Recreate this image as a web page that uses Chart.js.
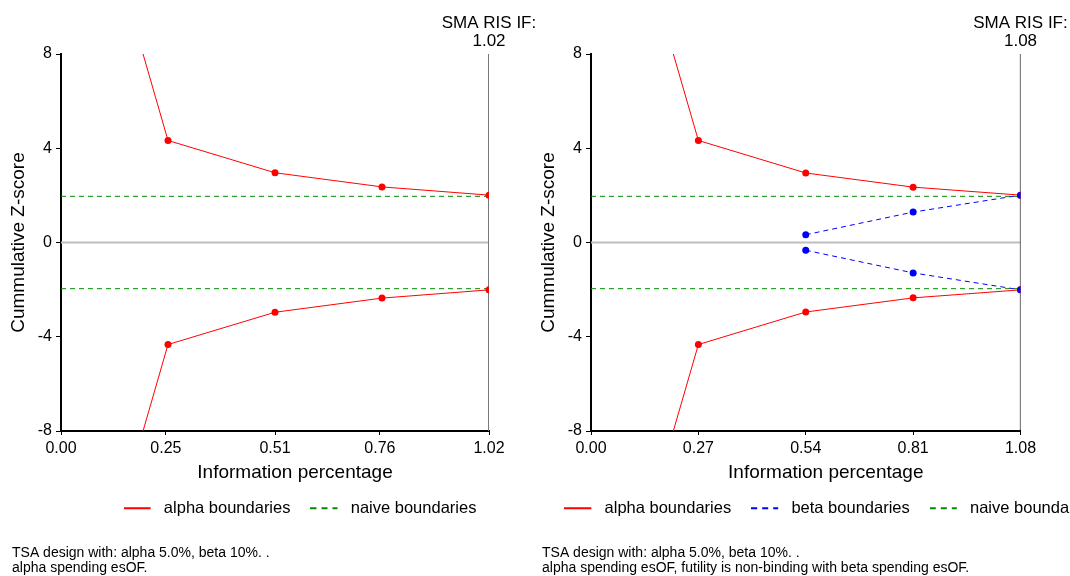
<!DOCTYPE html>
<html>
<head>
<meta charset="utf-8">
<script src="https://cdn.jsdelivr.net/npm/chart.js@4.4.1/dist/chart.umd.min.js"></script>
<style>
  html, body { margin: 0; padding: 0; background: #fff; overflow: hidden; }
  body { width: 1070px; height: 576px; position: relative; }
  .panel { position: absolute; top: 0; width: 600px; height: 576px; }
  #leftPanel { left: 0; }
  #rightPanel { left: 530px; }
</style>
</head>
<body>
<div class="panel" id="leftPanel"><canvas id="tsaLeft" width="600" height="576"></canvas></div>
<div class="panel" id="rightPanel"><canvas id="tsaRight" width="600" height="576"></canvas></div>
<script>
// shared z-score axis
const zTicks = [-8, -4, 0, 4, 8];
const naiveZ = 1.96;

// left: alpha spending only
const leftIF = 1.02;
const leftTickLabels = ["0.00", "0.25", "0.51", "0.76", "1.02"];
const leftLooks = [0.255, 0.51, 0.765, 1.02];
const leftAlphaUpper = [4.33, 2.96, 2.36, 2.01];
const leftAlphaLower = [-4.33, -2.96, -2.36, -2.01];
// boundary runs off the plot before the first look
const leftLeadX = 0.1275;
const leftLeadZ = [12.2, -12.2];
const leftNotes = [
  "TSA design with: alpha 5.0%, beta 10%. .",
  "alpha spending esOF."
];

// right: alpha spending + non-binding beta spending
const rightIF = 1.08;
const rightTickLabels = ["0.00", "0.27", "0.54", "0.81", "1.08"];
const rightLooks = [0.27, 0.54, 0.81, 1.08];
const rightAlphaUpper = [4.33, 2.95, 2.35, 2.01];
const rightAlphaLower = [-4.33, -2.95, -2.35, -2.01];
const rightLeadX = 0.135;
const rightLeadZ = [12.2, -12.2];
const rightBetaLooks = [0.54, 0.81, 1.08];
const rightBetaUpper = [0.33, 1.29, 2.01];
const rightBetaLower = [-0.33, -1.29, -2.01];
const rightNotes = [
  "TSA design with: alpha 5.0%, beta 10%. .",
  "alpha spending esOF, futility is non-binding with beta spending esOF."
];

const FONT = '"Liberation Sans", Arial, Helvetica, sans-serif';
Chart.defaults.font.family = FONT;
Chart.defaults.color = "#000";

const RED = "#ff0000";
const BLUE = "#0000ff";
const GREEN = "#008b00";

const pts = (xs, ys) => xs.map((x, i) => ({ x: x, y: ys[i] }));

// little line swatch for the legend, with some blank room after it
function swatch(color, dash) {
  const c = document.createElement("canvas");
  c.width = 32; c.height = 4;
  const g = c.getContext("2d");
  g.strokeStyle = color;
  g.lineWidth = 2;
  g.setLineDash(dash);
  g.beginPath();
  g.moveTo(0, 2);
  g.lineTo(27, 2);
  g.stroke();
  return c;
}

// header above the IF line, x title and the design notes underneath
const tsaText = {
  id: "tsaText",
  afterDraw(chart, args, opts) {
    const { ctx, chartArea } = chart;
    const xs = chart.scales.x;
    const xIF = xs.getPixelForValue(opts.ifValue);
    ctx.save();
    ctx.fillStyle = "#000";
    ctx.textBaseline = "alphabetic";
    ctx.textAlign = "center";
    ctx.font = "17px " + FONT;
    ctx.fillText("SMA RIS IF:", xIF, chartArea.top - 26.3);
    ctx.fillText(opts.ifLabel, xIF, chartArea.top - 8);
    ctx.font = "19px " + FONT;
    ctx.fillText("Information percentage", (chartArea.left + chartArea.right) / 2 + 20, xs.bottom - 2.3);
    ctx.textAlign = "left";
    ctx.font = "14px " + FONT;
    opts.notes.forEach((line, i) => ctx.fillText(line, 12, 556.7 + i * 15.6));
    ctx.restore();
  }
};

function lineSet(label, data, color, dash, width, radius, order, legendDash) {
  return {
    label: label,
    data: data,
    borderColor: color,
    backgroundColor: color,
    borderWidth: width,
    borderDash: dash,
    pointRadius: radius,
    pointBackgroundColor: color,
    pointBorderWidth: 0,
    fill: false,
    tension: 0,
    order: order,
    legendDash: legendDash
  };
}

function makeChart(id, cfg) {
  const datasets = [
    lineSet("zero", [{ x: 0, y: 0 }, { x: cfg.ifValue, y: 0 }], "#bebebe", [], 2, 0, 6),
    lineSet("ris", [{ x: cfg.ifValue, y: zTicks[0] }, { x: cfg.ifValue, y: zTicks[zTicks.length - 1] }], cfg.risColor, [], cfg.risWidth, 0, 5),
    lineSet("naive boundaries", [{ x: 0, y: naiveZ }, { x: cfg.ifValue, y: naiveZ }], GREEN, [5, 4], 1, 0, 4, [6, 5]),
    lineSet("naive lower", [{ x: 0, y: -naiveZ }, { x: cfg.ifValue, y: -naiveZ }], GREEN, [5, 4], 1, 0, 4),
    lineSet("alpha boundaries", [{ x: cfg.leadX, y: cfg.leadZ[0] }].concat(pts(cfg.looks, cfg.alphaUpper)), RED, [], 1, 3.5, 2, []),
    lineSet("alpha lower", [{ x: cfg.leadX, y: cfg.leadZ[1] }].concat(pts(cfg.looks, cfg.alphaLower)), RED, [], 1, 3.5, 2)
  ];
  if (cfg.betaUpper) {
    datasets.push(lineSet("beta boundaries", pts(cfg.betaLooks, cfg.betaUpper), BLUE, [5, 4], 1, 3.5, 1, [6, 5]));
    datasets.push(lineSet("beta lower", pts(cfg.betaLooks, cfg.betaLower), BLUE, [5, 4], 1, 3.5, 1));
  }
  // legend order: alpha, beta, naive
  const legendOrder = ["alpha boundaries", "beta boundaries", "naive boundaries"];

  return new Chart(document.getElementById(id), {
    type: "line",
    data: { datasets: datasets },
    plugins: [tsaText],
    options: {
      responsive: false,
      animation: false,
      events: [],
      layout: { padding: { top: 54, bottom: 49.5, left: 0, right: 0 } },
      scales: {
        x: {
          type: "linear",
          min: 0,
          max: cfg.ifValue,
          afterBuildTicks: s => { s.ticks = cfg.tickLabels.map(t => ({ value: parseFloat(t) })); },
          ticks: {
            callback: (v, i) => cfg.tickLabels[i],
            font: { size: 16 },
            color: "#000",
            padding: 4,
            maxRotation: 0,
            autoSkip: false
          },
          grid: { drawOnChartArea: false, drawTicks: true, tickLength: 4, color: "#000", lineWidth: 1 },
          border: { display: true, color: "#000", width: 2 },
          afterFit: s => { s.height = 49; }
        },
        y: {
          type: "linear",
          position: "left",
          min: zTicks[0],
          max: zTicks[zTicks.length - 1],
          afterBuildTicks: s => { s.ticks = zTicks.map(v => ({ value: v })); },
          ticks: { font: { size: 16 }, color: "#000", padding: 4 },
          grid: { drawOnChartArea: false, drawTicks: true, tickLength: 5, color: "#000", lineWidth: 1 },
          border: { display: true, color: "#000", width: 2 },
          title: {
            display: true,
            text: "Cummulative Z-score",
            font: { size: 19 },
            color: "#000",
            padding: { top: 7, bottom: 0 }
          },
          afterFit: s => { s.width = 61; }
        },
        // empty right-hand scale that keeps room beside the IF line
        gap: {
          type: "linear",
          position: "right",
          min: zTicks[0],
          max: zTicks[zTicks.length - 1],
          ticks: { display: false },
          grid: { display: false },
          border: { display: false },
          afterFit: s => { s.width = cfg.rightGap; }
        }
      },
      plugins: {
        tooltip: { enabled: false },
        legend: {
          position: "bottom",
          labels: {
            usePointStyle: true,
            pointStyleWidth: 32,
            padding: 20,
            color: "#000",
            font: { size: 16.5 },
            generateLabels: chart => legendOrder
              .map(name => chart.data.datasets.findIndex(d => d.label === name))
              .filter(i => i >= 0)
              .map(i => {
                const d = chart.data.datasets[i];
                return {
                  text: d.label,
                  pointStyle: swatch(d.borderColor, d.legendDash),
                  fillStyle: d.borderColor,
                  strokeStyle: d.borderColor,
                  lineWidth: 0,
                  hidden: false,
                  fontColor: "#000",
                  datasetIndex: i
                };
              })
          }
        },
        tsaText: { ifValue: cfg.ifValue, ifLabel: cfg.tickLabels[cfg.tickLabels.length - 1], notes: cfg.notes }
      }
    }
  });
}

makeChart("tsaLeft", {
  ifValue: leftIF,
  tickLabels: leftTickLabels,
  looks: leftLooks,
  alphaUpper: leftAlphaUpper,
  alphaLower: leftAlphaLower,
  leadX: leftLeadX,
  leadZ: leftLeadZ,
  notes: leftNotes,
  risColor: "#7a7a7a",
  risWidth: 2,
  rightGap: 111
});

makeChart("tsaRight", {
  ifValue: rightIF,
  tickLabels: rightTickLabels,
  looks: rightLooks,
  alphaUpper: rightAlphaUpper,
  alphaLower: rightAlphaLower,
  leadX: rightLeadX,
  leadZ: rightLeadZ,
  betaLooks: rightBetaLooks,
  betaUpper: rightBetaUpper,
  betaLower: rightBetaLower,
  notes: rightNotes,
  risColor: "#000",
  risWidth: 1.2,
  rightGap: 109.5
});
</script>
</body>
</html>
